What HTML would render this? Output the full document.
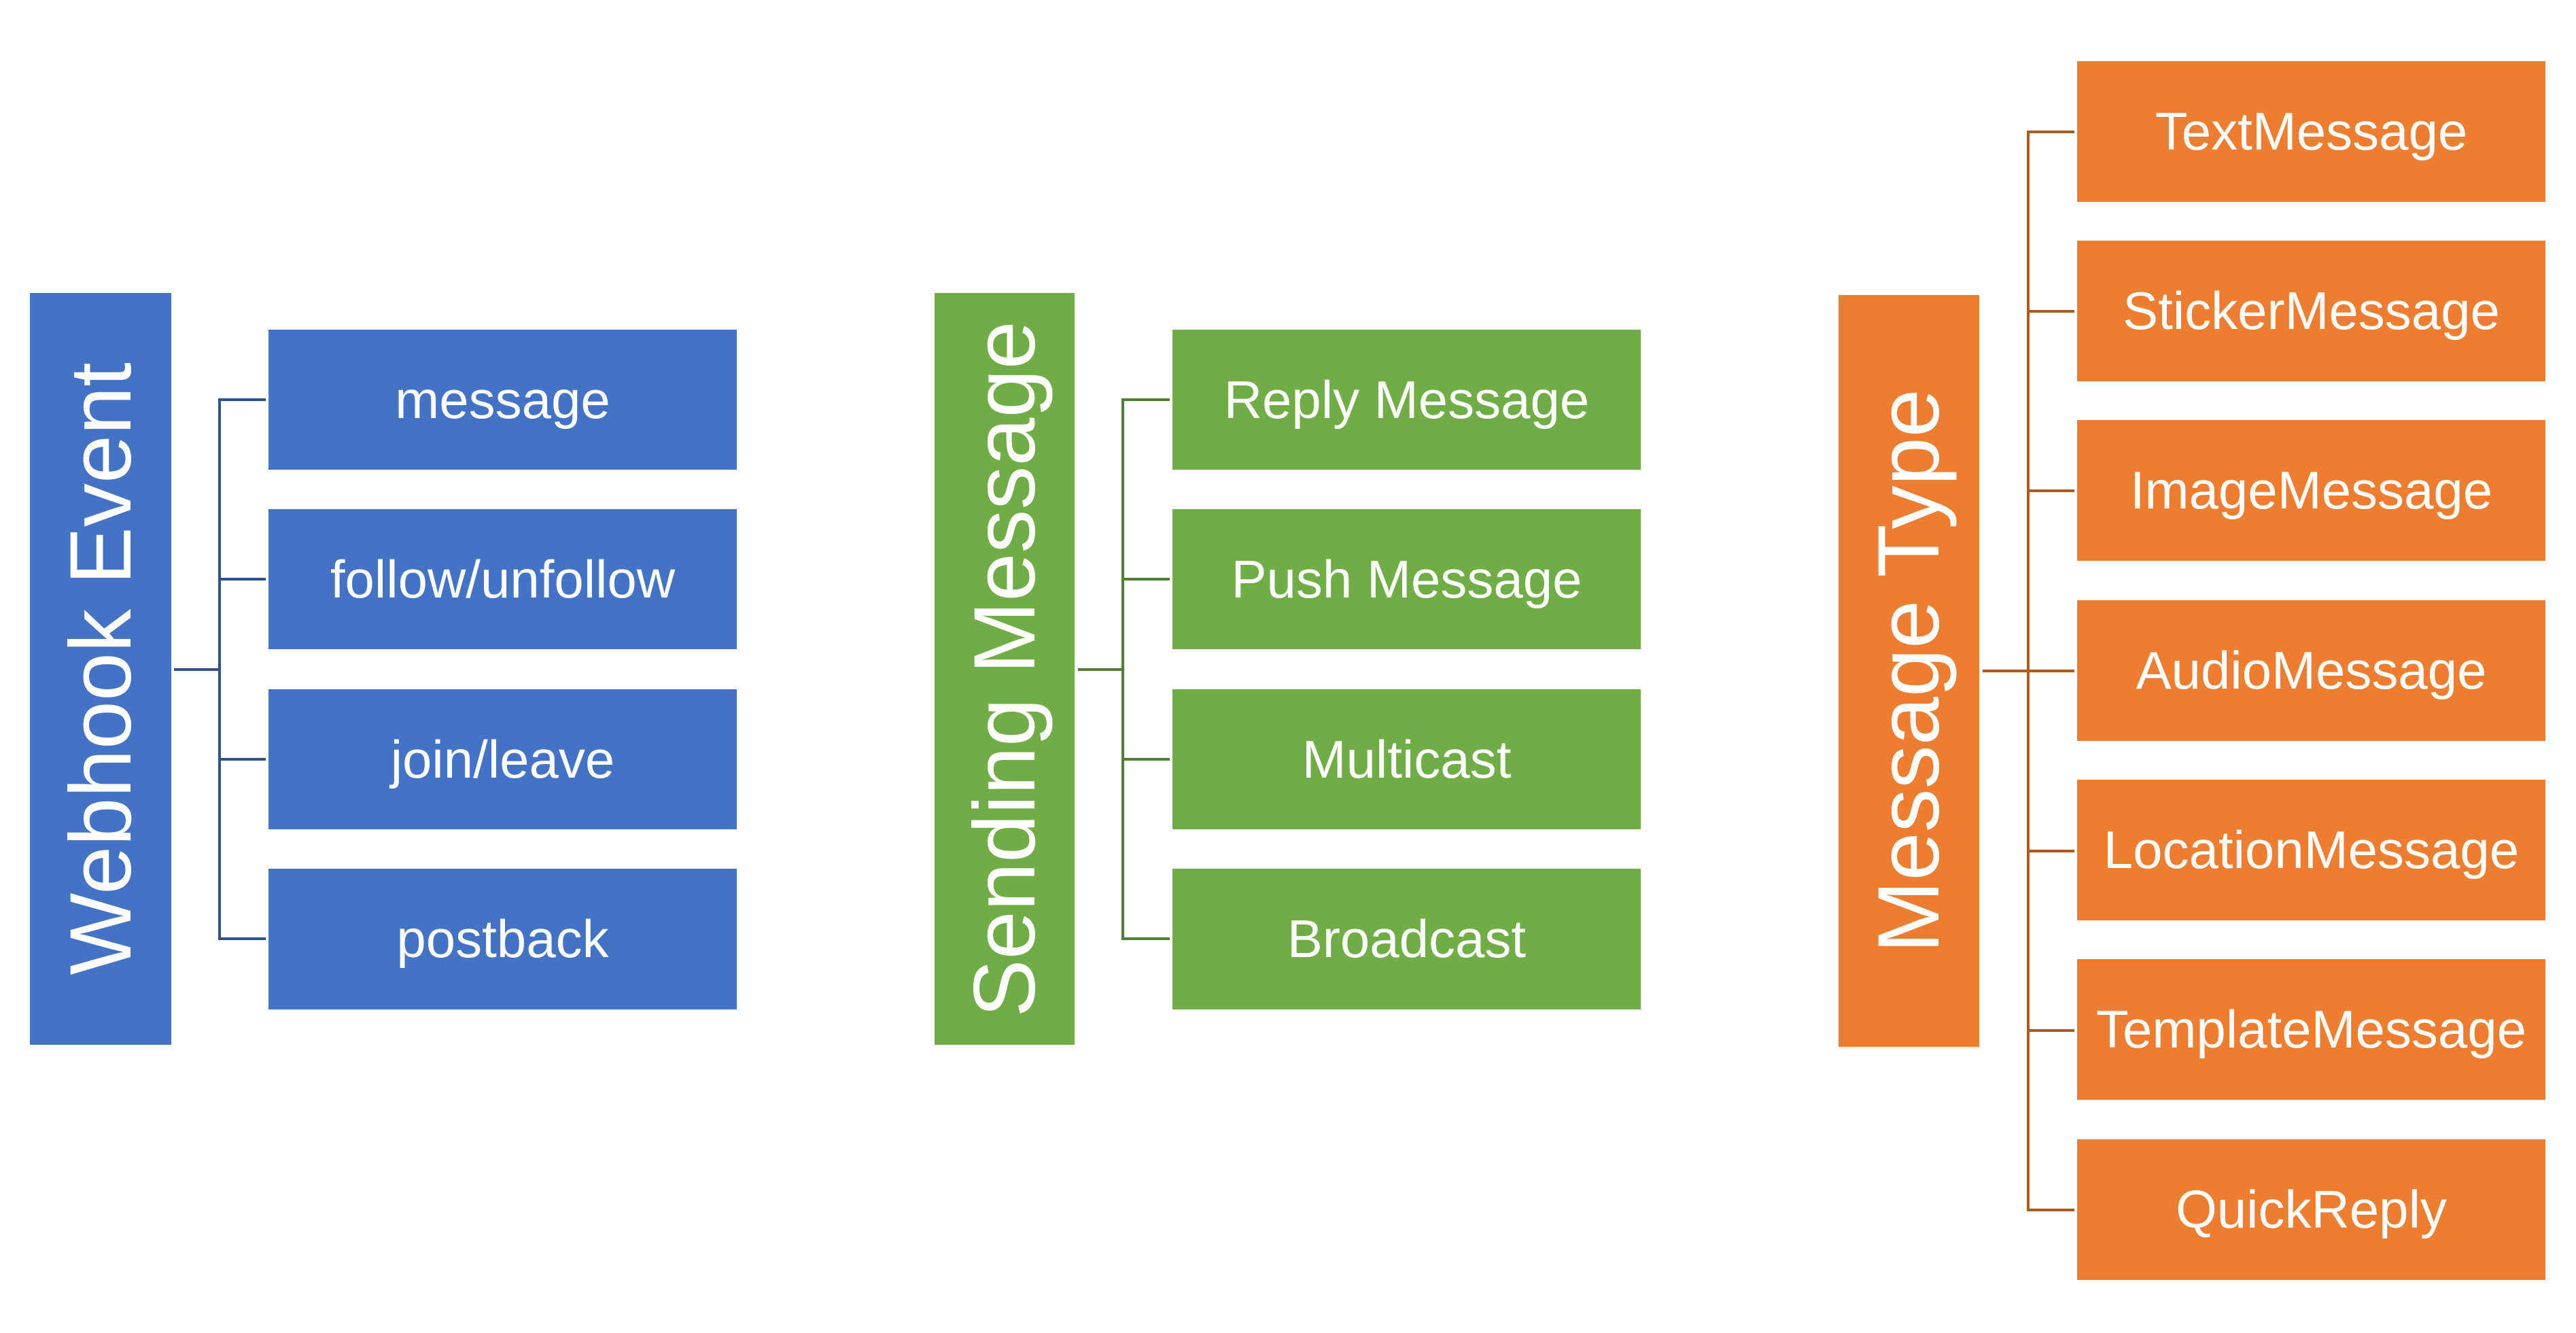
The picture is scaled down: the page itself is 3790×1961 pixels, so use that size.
<!DOCTYPE html>
<html><head><meta charset="utf-8"><style>
body{margin:0;width:3790px;height:1961px;background:#fff;position:relative;overflow:hidden;font-family:"Liberation Sans",sans-serif;}
.b{position:absolute;display:flex;align-items:center;justify-content:center;color:#fff;font-size:78px;white-space:nowrap;}
.m{position:absolute;display:flex;align-items:center;justify-content:center;color:#fff;font-size:128px;}
.m span{writing-mode:vertical-rl;transform:rotate(180deg);white-space:nowrap;}
.l{position:absolute;}
.bl{background:#4472C4}.gr{background:#70AD47}.or{background:#ED7D31}
</style></head><body>
<!-- Blue -->
<div class="m bl" style="left:44px;top:431px;width:208px;height:1106px"><span>Webhook Event</span></div>
<div class="l" style="left:256px;top:983px;width:69px;height:4px;background:#2F528F"></div>
<div class="l" style="left:321px;top:587px;width:4px;height:796px;background:#2F528F"></div>
<div class="l" style="left:321px;top:586px;width:70px;height:4px;background:#2F528F"></div>
<div class="l" style="left:321px;top:850px;width:70px;height:4px;background:#2F528F"></div>
<div class="l" style="left:321px;top:1115px;width:70px;height:4px;background:#2F528F"></div>
<div class="l" style="left:321px;top:1379px;width:70px;height:4px;background:#2F528F"></div>
<div class="b bl" style="left:395px;top:485px;width:689px;height:206px">message</div>
<div class="b bl" style="left:395px;top:749px;width:689px;height:206px">follow/unfollow</div>
<div class="b bl" style="left:395px;top:1014px;width:689px;height:206px">join/leave</div>
<div class="b bl" style="left:395px;top:1278px;width:689px;height:207px">postback</div>
<!-- Green -->
<div class="m gr" style="left:1375px;top:431px;width:206px;height:1106px"><span>Sending Message</span></div>
<div class="l" style="left:1586px;top:983px;width:68px;height:4px;background:#507E32"></div>
<div class="l" style="left:1650px;top:587px;width:4px;height:796px;background:#507E32"></div>
<div class="l" style="left:1650px;top:586px;width:71px;height:4px;background:#507E32"></div>
<div class="l" style="left:1650px;top:850px;width:71px;height:4px;background:#507E32"></div>
<div class="l" style="left:1650px;top:1115px;width:71px;height:4px;background:#507E32"></div>
<div class="l" style="left:1650px;top:1379px;width:71px;height:4px;background:#507E32"></div>
<div class="b gr" style="left:1725px;top:485px;width:689px;height:206px">Reply Message</div>
<div class="b gr" style="left:1725px;top:749px;width:689px;height:206px">Push Message</div>
<div class="b gr" style="left:1725px;top:1014px;width:689px;height:206px">Multicast</div>
<div class="b gr" style="left:1725px;top:1278px;width:689px;height:207px">Broadcast</div>
<!-- Orange -->
<div class="m or" style="left:2705px;top:434px;width:207px;height:1106px"><span>Message Type</span></div>
<div class="l" style="left:2917px;top:985px;width:69px;height:4px;background:#AE5A21"></div>
<div class="l" style="left:2982px;top:192px;width:4px;height:1590px;background:#AE5A21"></div>
<div class="l" style="left:2982px;top:192px;width:70px;height:4px;background:#AE5A21"></div>
<div class="l" style="left:2982px;top:456px;width:70px;height:4px;background:#AE5A21"></div>
<div class="l" style="left:2982px;top:720px;width:70px;height:4px;background:#AE5A21"></div>
<div class="l" style="left:2982px;top:985px;width:70px;height:4px;background:#AE5A21"></div>
<div class="l" style="left:2982px;top:1250px;width:70px;height:4px;background:#AE5A21"></div>
<div class="l" style="left:2982px;top:1514px;width:70px;height:4px;background:#AE5A21"></div>
<div class="l" style="left:2982px;top:1778px;width:70px;height:4px;background:#AE5A21"></div>
<div class="b or" style="left:3056px;top:90px;width:689px;height:207px">TextMessage</div>
<div class="b or" style="left:3056px;top:354px;width:689px;height:207px">StickerMessage</div>
<div class="b or" style="left:3056px;top:618px;width:689px;height:207px">ImageMessage</div>
<div class="b or" style="left:3056px;top:883px;width:689px;height:207px">AudioMessage</div>
<div class="b or" style="left:3056px;top:1147px;width:689px;height:207px">LocationMessage</div>
<div class="b or" style="left:3056px;top:1411px;width:689px;height:207px">TemplateMessage</div>
<div class="b or" style="left:3056px;top:1676px;width:689px;height:207px">QuickReply</div>
</body></html>
